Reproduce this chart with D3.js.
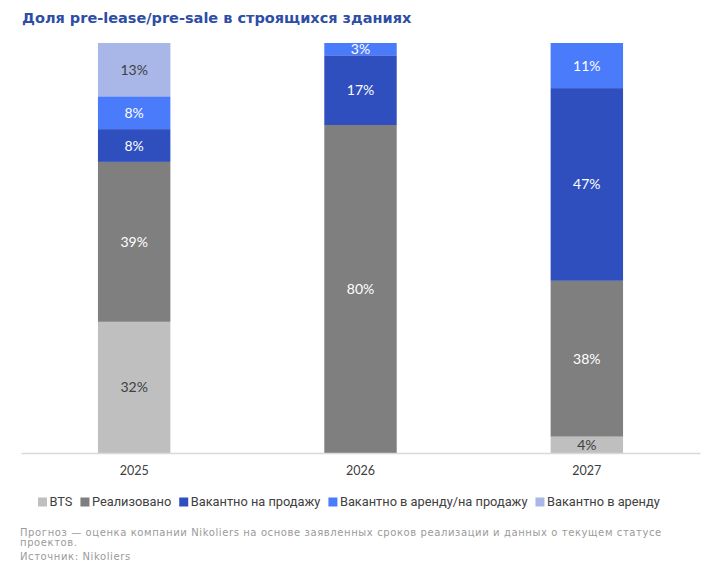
<!DOCTYPE html>
<html>
<head>
<meta charset="utf-8">
<script src="https://cdn.jsdelivr.net/npm/d3@7"></script>
<style>
  body { margin: 0; background: #fff; }
</style>
</head>
<body>
<div id="chart"></div>
<script>
const years = ["2025", "2026", "2027"];
const seriesNames = ["BTS", "Реализовано", "Вакантно на продажу", "Вакантно в аренду/на продажу", "Вакантно в аренду"];
const seriesColors = ["#bfbfbf", "#7f7f7f", "#2f4fbe", "#4a7bfb", "#a9b7e8"];
const labelColors = ["#404040", "#ffffff", "#ffffff", "#ffffff", "#404040"];
const bts = [32, 0, 4];
const sold = [39, 80, 38];
const vacantSale = [8, 17, 47];
const vacantBoth = [8, 3, 11];
const vacantLease = [13, 0, 0];

const W = 716, H = 572;
const margin = {top: 43, right: 16, bottom: 119, left: 21},
	  width = W - margin.left - margin.right,
	  height = H - margin.top - margin.bottom;

const table = years.map((y, i) => ({
	year: y,
	s0: bts[i], s1: sold[i], s2: vacantSale[i], s3: vacantBoth[i], s4: vacantLease[i]
}));
const keys = ["s0", "s1", "s2", "s3", "s4"];
const stacked = d3.stack().keys(keys)(table);

const svg = d3.select("#chart")
	.append("svg")
	.attr("width", W)
	.attr("height", H);

// Title
svg.append("text")
	.attr("x", 22)
	.attr("y", 23)
	.attr("font-family", "DejaVu Sans, Verdana, sans-serif")
	.attr("font-weight", "bold")
	.attr("font-size", 14.5)
	.attr("fill", "#2e4ea6")
	.text("Доля pre-lease/pre-sale в строящихся зданиях");

const g = svg.append("g")
	.attr("transform", "translate(" + margin.left + "," + margin.top + ")");

let xScale = d3.scaleBand()
	.domain(years)
	.range([0, width])
	.paddingInner(0.68)
	.paddingOuter(0.34);
let yScale = d3.scaleLinear()
	.domain([0, 100])
	.range([height, 0]);

// Bars
const layers = g.selectAll(".layer")
	.data(stacked)
	.enter().append("g")
	.attr("class", "layer")
	.attr("fill", (d, i) => seriesColors[i]);

layers.selectAll("rect")
	.data(d => d)
	.enter().append("rect")
	.attr("x", d => xScale(d.data.year))
	.attr("y", d => yScale(d[1]))
	.attr("width", xScale.bandwidth())
	.attr("height", d => yScale(d[0]) - yScale(d[1]));

// Value labels
layers.each(function(layer, li) {
	d3.select(this).selectAll("text")
		.data(layer.filter(d => d[1] - d[0] > 0))
		.enter().append("text")
		.attr("x", d => xScale(d.data.year) + xScale.bandwidth() / 2)
		.attr("y", d => (yScale(d[0]) + yScale(d[1])) / 2)
		.attr("dy", "0.36em")
		.attr("text-anchor", "middle")
		.attr("font-family", "Lato, sans-serif")
		.attr("font-size", 14)
		.attr("fill", labelColors[li])
		.text(d => (d[1] - d[0]) + "%");
});

// X axis
const xAxis = g.append("g")
	.attr("class", "x axis")
	.attr("transform", "translate(0," + height + ")")
	.call(d3.axisBottom(xScale).tickSize(0).tickPadding(13));
xAxis.select(".domain").attr("stroke", "#d9d9d9").attr("stroke-width", 1.5);
xAxis.selectAll("text")
	.attr("font-family", "Lato, sans-serif")
	.attr("font-size", 12.5)
	.attr("fill", "#404040");

// Legend
const legend = svg.append("g")
	.attr("transform", "translate(38,502)");
let lx = 0;
seriesNames.forEach((name, i) => {
	const item = legend.append("g").attr("transform", "translate(" + lx + ",0)");
	item.append("rect")
		.attr("x", 0).attr("y", -4.5)
		.attr("width", 9).attr("height", 9)
		.attr("fill", seriesColors[i]);
	const t = item.append("text")
		.attr("x", 11.5)
		.attr("dy", "0.35em")
		.attr("font-family", "Roboto, sans-serif")
		.attr("font-size", 12.8)
		.attr("fill", "#404040")
		.text(name);
	lx += 11.5 + t.node().getComputedTextLength() + 8;
});

// Footnote
const notes = [
	["Прогноз — оценка компании Nikoliers на основе заявленных сроков реализации и данных о текущем статусе", 536],
	["проектов.", 546],
	["Источник: Nikoliers", 560]
];
svg.selectAll(".note")
	.data(notes)
	.enter().append("text")
	.attr("class", "note")
	.attr("x", 20)
	.attr("y", d => d[1])
	.attr("font-family", "DejaVu Sans, Verdana, sans-serif")
	.attr("font-size", 10)
	.attr("letter-spacing", 0.6)
	.attr("fill", "#9a9a9a")
	.text(d => d[0]);
</script>
</body>
</html>
